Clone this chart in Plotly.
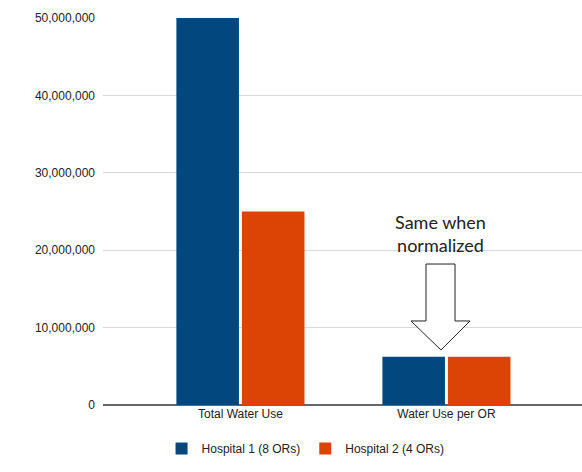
import plotly.graph_objects as go

categories = ["Total Water Use", "Water Use per OR"]
hospital_1 = [50_000_000, 6_250_000]
hospital_2 = [25_000_000, 6_250_000]
series_names = ["Hospital 1 (8 ORs)", "Hospital 2 (4 ORs)"]
y_ticks = [0, 10_000_000, 20_000_000, 30_000_000, 40_000_000, 50_000_000]

BLUE = "#02487f"
ORANGE = "#dc4405"
W, H = 582, 472
ML, MR, MT, MB = 103, 0, 18, 67
PW, PH = W - ML - MR, H - MT - MB


def px(x):
    return (x - ML) / PW


def py(y):
    return (H - MB - y) / PH


fig = go.Figure()
for name, vals, col in [(series_names[0], hospital_1, BLUE), (series_names[1], hospital_2, ORANGE)]:
    fig.add_trace(go.Bar(x=categories, y=vals, name=name, marker=dict(color=col, line=dict(width=0))))

# Block arrow pointing down at the normalized bars
arrow = [(426, 264), (455, 264), (455, 321), (470, 321), (441, 350), (411, 321), (426, 321)]
path = "M " + " L ".join(f"{px(x):.4f},{py(y):.4f}" for x, y in arrow) + " Z"
fig.add_shape(type="path", path=path, xref="paper", yref="paper",
              line=dict(color="#222222", width=1), fillcolor="white", layer="above")

fig.add_annotation(text="Same when<br>normalized", xref="paper", yref="paper",
                   x=px(440), y=py(233), xanchor="center", yanchor="middle",
                   showarrow=False, font=dict(family="Lato", size=18, color="#222222"))

fig.update_layout(
    width=W, height=H,
    margin=dict(l=ML, r=MR, t=MT, b=MB),
    plot_bgcolor="white", paper_bgcolor="white",
    barmode="group", bargap=0.364, bargroupgap=0.045,
    font=dict(family="Liberation Sans, Arial", size=12, color="#222222"),
    showlegend=True,
    legend=dict(orientation="h", xref="container", x=0.525, xanchor="center",
                yref="container", y=0.05, yanchor="middle",
                font=dict(size=12, color="#222222"), itemwidth=30),
    xaxis=dict(type="category", range=[-0.667, 1.658], showgrid=False,
               showline=False, ticks="", tickfont=dict(size=12, color="#222222")),
    yaxis=dict(range=[0, 50_000_000], tickvals=y_ticks, tickformat=",d",
               showgrid=True, gridcolor="#d9d9d9", gridwidth=1,
               zeroline=True, zerolinecolor="#666666", zerolinewidth=1.5,
               ticks="", ticklabelstandoff=7,
               tickfont=dict(size=12, color="#222222")),
)

fig.write_html("out.html")
